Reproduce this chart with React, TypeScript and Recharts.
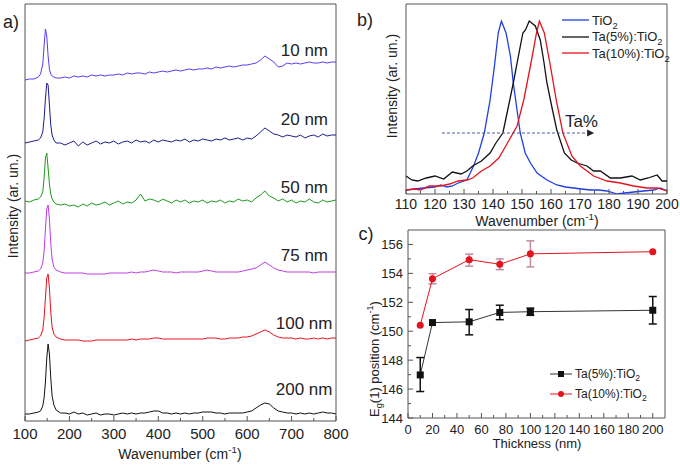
import {
  ComposedChart,
  ErrorBar,
  Legend,
  Line,
  LineChart,
  ReferenceArea,
  ReferenceDot,
  ReferenceLine,
  XAxis,
  YAxis,
} from 'recharts'

const FONT = 'Arial, "Liberation Sans", sans-serif'
const AXIS = '#555'
const TEXT = '#222'

// ---- a) Raman spectra, one per film thickness (stacked with an offset) ----
const ramanShift = [
  100, 110, 120, 130, 135, 140, 143, 146, 149, 152, 155, 158, 161, 165, 170,
  180, 190,
  200, 210, 220, 230, 240, 250, 260, 270, 280, 290,
  300, 310, 320, 330, 340, 350, 360, 370, 380, 390,
  400, 410, 420, 430, 440, 450, 460, 470, 480, 490,
  500, 510, 520, 530, 540, 550, 560, 570, 580, 590,
  600, 610, 620, 630, 640, 650, 660, 670, 680, 690,
  700, 710, 720, 730, 740, 750, 760, 770, 780, 790,
  800,
]
const thicknessLabels = ['10 nm', '20 nm', '50 nm', '75 nm', '100 nm', '200 nm']
const spectrumOffset = [341, 278, 219, 148, 81, 7]

const spectrum10 = [
  0, 1, 1, 3, 6, 16, 34, 51, 44, 24, 11, 6, 4, 3, 2,
  2, 3,
  2, 4, 3, 4, 3, 5, 4, 5, 4, 5,
  5, 6, 5, 7, 6, 7, 7, 6, 8, 7,
  8, 9, 8, 9, 10, 9, 10, 11, 10, 11,
  11, 12, 11, 13, 12, 13, 14, 13, 14, 15,
  15, 16, 17, 20, 24, 21, 18, 13, 14, 17,
  16, 17, 16, 17, 18, 17, 17, 18, 17, 18,
  18,
]
const spectrum20 = [
  0, 1, 2, 3, 5, 11, 24, 44, 60, 58, 38, 18, 8, 3, 0,
  0, -2,
  0, 2, -3, 1, -2, 0, 2, -1, 1, 0,
  2, -1, 1, 2, 0, 3, 1, 2, 0, 3,
  1, 3, 2, 1, 3, 2, 4, 1, 3, 2,
  4, 3, 2, 4, 3, 5, 3, 4, 5, 3,
  5, 4, 7, 11, 15, 12, 9, 8, 6, 8,
  7, 6, 8, 5, 7, 8, 6, 9, 7, 8,
  8,
]
const spectrum50 = [
  1, 0, 2, 3, 5, 10, 24, 44, 49, 34, 18, 8, 3, 0, -2,
  -3, -2,
  -4, -3, -5, -2, -4, -1, -3, -2, 0, -3,
  -1, 1, -2, 0, -1, 2, 8, 1, 3, 2,
  0, 3, 1, -1, 2, 0, 2, -1, 1, 0,
  2, -1, 1, 0, 2, -1, 1, 0, 3, 1,
  2, 0, 4, 7, 11, 6, 4, 1, 3, 0,
  2, -1, 1, 0, 3, 0, -1, 2, 0, 1,
  2,
]
const spectrum75 = [
  0, 0, 1, 2, 4, 10, 22, 44, 64, 68, 54, 30, 14, 6, 3,
  1, 0,
  0, 0, 0, 0, -1, -1, -1, -1, -1, 0,
  0, 0, 0, 0, 1, 0, 1, 1, 2, 3,
  2, 1, 1, 1, 0, 1, 1, 1, 1, 1,
  2, 3, 2, 1, 1, 1, 1, 1, 1, 2,
  3, 4, 5, 8, 11, 8, 5, 3, 2, 1,
  1, 1, 1, 1, 1, 0, 1, 1, 1, 1,
  1,
]
const spectrum100 = [
  -1, 0, 1, 2, 4, 10, 22, 42, 62, 66, 52, 28, 13, 6, 3,
  1, 0,
  0, 0, 0, -1, -1, -1, 0, 0, 0, 0,
  0, 0, 0, 0, 1, 0, 1, 1, 1, 2,
  2, 1, 1, 1, 1, 1, 1, 1, 1, 1,
  1, 2, 2, 2, 1, 1, 2, 2, 2, 3,
  3, 4, 6, 8, 10, 8, 5, 3, 2, 2,
  2, 1, 2, 1, 1, 2, 1, 2, 1, 2,
  2,
]
const spectrum200 = [
  0, 0, 1, 2, 3, 8, 16, 32, 56, 70, 60, 36, 18, 9, 4,
  1, 1,
  0, 2, 0, 1, -1, 0, 1, -1, 0, 0,
  -1, 0, 1, 0, 1, 0, 1, 1, 2, 3,
  3, 1, 1, 0, 1, 0, 1, 0, 1, 1,
  2, 2, 2, 1, 1, 0, 1, 1, 1, 1,
  2, 3, 6, 9, 11, 10, 6, 3, 2, 1,
  1, 0, 1, 0, 1, 0, 1, 2, 1, 1,
  0,
]
const spectra = [spectrum10, spectrum20, spectrum50, spectrum75, spectrum100, spectrum200]
const spectraColors = ['#5a3cf2', '#1c1c8c', '#1c9a1c', '#c03ce6', '#e8121e', '#111111']
// where each thickness label sits (right end, vertical centre) in data units
const labelAnchor: [number, number][] = [
  [782, 371], [782, 302], [782, 234], [782, 166], [792, 98], [792, 32],
]

const spectraRows = ramanShift.map((x, i) => {
  const row: Record<string, number> = { x }
  spectra.forEach((s, k) => { row['s' + k] = s[i] + spectrumOffset[k] })
  return row
})

// ---- b) Eg(1) peak, undoped vs Ta-doped ----
const tio2Peak: [number, number][] = [
  [110, 4], [113, 5], [116, 6], [120, 7], [122, 9], [124, 7], [126, 8], [128, 11],
  [131, 14], [133.3, 28], [135, 41], [137, 61], [139, 94], [140.5, 128], [141.8, 161],
  [142.9, 173], [144.5, 161], [146, 138], [147, 111], [148.2, 86], [149.4, 61],
  [151.1, 41], [152.9, 31], [155.2, 21], [158.6, 14], [162, 9], [165, 7], [167.8, 6],
  [170.5, 5], [173.6, 4], [176.5, 4], [179.3, 3], [182.8, 0], [185.5, 1], [188.5, 2],
  [192, 3], [195.4, 4], [197.7, 6], [200, 3],
]
const ta5Peak: [number, number][] = [
  [110, 18], [112, 14], [114, 13], [117, 16], [120, 18], [123, 15], [126, 22], [129, 20],
  [131, 23], [133, 28], [136, 33], [139, 41], [141, 51], [143.4, 61], [145, 83],
  [147, 111], [148.7, 137], [150.3, 161], [151.2, 164], [152.5, 173], [154.6, 168],
  [156.3, 154], [157.5, 133], [158.6, 111], [160.3, 87], [162, 64], [164.6, 41],
  [167, 34], [169, 31], [172.4, 28], [174.7, 23], [177, 23], [180.5, 16], [183.9, 16],
  [187.9, 18], [190.8, 14], [193.5, 16], [196.6, 19], [198.3, 13], [200, 13],
]
const ta10Peak: [number, number][] = [
  [110, 4], [113, 5], [115, 4], [118, 8], [122, 8], [125, 10], [128, 13], [131, 14],
  [133, 16], [136, 23], [139, 28], [142, 36], [145, 51], [148.3, 68], [150.6, 94],
  [152.9, 128], [155, 161], [156, 173], [157.7, 161], [159.8, 128], [161.8, 94],
  [164.1, 61], [167.2, 38], [170.1, 28], [174.7, 18], [179.3, 13], [183.9, 11],
  [188.5, 8], [193.1, 6], [196.6, 6], [200, 3],
]
const peakNames = ['TiO2', 'Ta(5%):TiO2', 'Ta(10%):TiO2']
const peakColors = ['#1f3ee6', '#111111', '#e4141e']
const peakSets = [tio2Peak, ta5Peak, ta10Peak].map((s) => s.map(([x, y]) => ({ x, y })))

// ---- c) Eg(1) position vs thickness ----
const thickness = [10, 20, 50, 75, 100, 200]
const ta5Position = [146.98, 150.6, 150.65, 151.3, 151.35, 151.45]
const ta5Error: ([number, number] | null)[] = [[1.15, 1.2], null, [0.9, 0.85], [0.5, 0.5], [0.25, 0.25], [0.95, 0.95]]
const ta10Position = [150.42, 153.63, 154.95, 154.63, 155.35, 155.5]
const ta10Error: ([number, number] | null)[] = [null, [0.35, 0.35], [0.45, 0.38], [0.37, 0.37], [0.9, 0.9], null]
const positionNames = ['Ta(5%):TiO2', 'Ta(10%):TiO2']

const positionRows = thickness.map((t, i) => ({
  t,
  ta5: ta5Position[i],
  e5: ta5Error[i],
  ta10: ta10Position[i],
  e10: ta10Error[i],
}))

function Chem({ name }: { name: string }) {
  const m = name.match(/^(.*O)2$/)
  if (!m) return <>{name}</>
  return (
    <>
      {m[1]}
      <sub style={{ fontSize: '0.72em', lineHeight: 0 }}>2</sub>
    </>
  )
}

// legend entries in the order the series were declared
function ordered(payload: any[], names: string[]) {
  return [...(payload || [])].sort((a, b) => names.indexOf(a.value) - names.indexOf(b.value))
}

function xTick(majors: number[], dy: number, size: number) {
  return (p: any) => {
    const v = p.payload.value
    const major = majors.includes(v)
    return (
      <g>
        <line x1={p.x} x2={p.x} y1={p.y} y2={p.y - (major ? 5 : 3)} stroke={AXIS} />
        {major && (
          <text x={p.x} y={p.y + dy} textAnchor="middle" dominantBaseline="central" fontSize={size} fill={TEXT}>
            {v}
          </text>
        )}
      </g>
    )
  }
}

function yTick(majors: number[]) {
  return (p: any) => {
    const v = p.payload.value
    const major = majors.includes(v)
    return (
      <g>
        <line x1={p.x} x2={p.x + (major ? 5 : 3)} y1={p.y} y2={p.y} stroke={AXIS} />
        {major && (
          <text x={p.x - 5} y={p.y} textAnchor="end" dominantBaseline="central" fontSize={13} fill={TEXT}>
            {v}
          </text>
        )}
      </g>
    )
  }
}

function Caption(props: { x: number; y: number; size: number; rotate?: boolean; children: any }) {
  return (
    <div
      style={{
        position: 'absolute',
        left: props.x,
        top: props.y,
        transform: 'translate(-50%, -50%)' + (props.rotate ? ' rotate(-90deg)' : ''),
        whiteSpace: 'nowrap',
        fontSize: props.size,
        lineHeight: 1,
        color: TEXT,
      }}
    >
      {props.children}
    </div>
  )
}

const sup = { fontSize: '0.7em', lineHeight: 0 }

const legendB = (props: any) => (
  <div style={{ fontSize: 13, color: TEXT }}>
    {ordered(props.payload, peakNames).map((e: any) => (
      <div key={e.value} style={{ display: 'flex', alignItems: 'center', height: 16.5 }}>
        <svg width={27} height={4} style={{ marginRight: 3 }}>
          <line x1={0} x2={27} y1={2} y2={2} stroke={e.color} strokeWidth={1.3} />
        </svg>
        <span>
          <Chem name={e.value} />
        </span>
      </div>
    ))}
  </div>
)

const legendC = (props: any) => (
  <div style={{ fontSize: 12, color: TEXT }}>
    {ordered(props.payload, positionNames).map((e: any) => (
      <div key={e.value} style={{ display: 'flex', alignItems: 'center', height: 20 }}>
        <svg width={22} height={8} style={{ marginRight: 3 }}>
          <line x1={0} x2={22} y1={4} y2={4} stroke={e.color} />
          {e.value === positionNames[0] ? (
            <rect x={8} y={1} width={6} height={6} fill="#111" />
          ) : (
            <circle cx={11} cy={4} r={3} fill={e.color} />
          )}
        </svg>
        <span>
          <Chem name={e.value} />
        </span>
      </div>
    ))}
  </div>
)

const squareDot = (p: any) => (
  <rect key={'sq' + p.index} x={p.cx - 3.5} y={p.cy - 3.5} width={7} height={7} fill="#111" />
)

const arrowHead = (p: any) => (
  <path d={`M${p.cx - 3},${p.cy - 3.5} L${p.cx + 4},${p.cy} L${p.cx - 3},${p.cy + 3.5} Z`} fill="#222" />
)

export default function App() {
  return (
    <div
      style={{
        position: 'absolute',
        left: 0,
        top: 0,
        width: 680,
        height: 465,
        background: '#fff',
        fontFamily: FONT,
      }}
    >
      {/* a) */}
      <div style={{ position: 'absolute', left: 0, top: 0 }}>
        <LineChart width={360} height={465} data={spectraRows} margin={{ top: 4, right: 24, bottom: 0, left: 25 }}>
          <XAxis
            type="number"
            dataKey="x"
            domain={[100, 800]}
            ticks={[100, 150, 200, 250, 300, 350, 400, 450, 500, 550, 600, 650, 700, 750, 800]}
            interval={0}
            axisLine={false}
            tickLine={false}
            tickSize={0}
            tickMargin={0}
            height={44}
            tick={xTick([100, 200, 300, 400, 500, 600, 700, 800], 12, 15)}
          />
          <YAxis hide type="number" domain={[0, 417]} />
          <ReferenceArea x1={100} x2={800} y1={0} y2={417} fill="none" stroke={AXIS} />
          {spectra.map((_, k) => (
            <Line
              key={k}
              dataKey={'s' + k}
              type="linear"
              stroke={spectraColors[k]}
              strokeWidth={1}
              dot={false}
              isAnimationActive={false}
            />
          ))}
          {thicknessLabels.map((name, k) => (
            <ReferenceDot
              key={name}
              x={labelAnchor[k][0]}
              y={labelAnchor[k][1]}
              r={0}
              fill="none"
              stroke="none"
              label={{ value: name, position: 'left', offset: 0, fontSize: 17, fill: TEXT }}
            />
          ))}
        </LineChart>
      </div>

      {/* b) */}
      <div style={{ position: 'absolute', left: 345, top: 0 }}>
        <LineChart width={335} height={230} margin={{ top: 4, right: 13, bottom: 0, left: 61 }}>
          <XAxis
            type="number"
            dataKey="x"
            domain={[110, 200]}
            allowDataOverflow
            ticks={[110, 115, 120, 125, 130, 135, 140, 145, 150, 155, 160, 165, 170, 175, 180, 185, 190, 195, 200]}
            interval={0}
            axisLine={false}
            tickLine={false}
            tickSize={0}
            tickMargin={0}
            height={36}
            tick={xTick([110, 120, 130, 140, 150, 160, 170, 180, 190, 200], 10, 14)}
          />
          <YAxis hide type="number" domain={[0, 190]} allowDataOverflow />
          <ReferenceArea x1={110} x2={200} y1={0} y2={190} fill="none" stroke={AXIS} />
          {peakSets.map((d, k) => (
            <Line
              key={peakNames[k]}
              data={d}
              dataKey="y"
              name={peakNames[k]}
              type="linear"
              stroke={peakColors[k]}
              strokeWidth={1.3}
              dot={false}
              isAnimationActive={false}
            />
          ))}
          <ReferenceLine
            segment={[{ x: 122.4, y: 61 }, { x: 172.8, y: 61 }]}
            stroke="#4a5a90"
            strokeDasharray="3 2"
          />
          <ReferenceDot x={173.5} y={61} r={3} shape={arrowHead} />
          <ReferenceDot
            x={170.5}
            y={73}
            r={0}
            fill="none"
            stroke="none"
            label={{ value: 'Ta%', position: 'center', fontSize: 17, fill: TEXT }}
          />
          <Legend
            layout="vertical"
            align="center"
            verticalAlign="middle"
            content={legendB}
            wrapperStyle={{ left: 217, top: 12, width: 'auto' }}
          />
        </LineChart>
      </div>

      {/* c) */}
      <div style={{ position: 'absolute', left: 345, top: 225 }}>
        <ComposedChart width={335} height={240} data={positionRows} margin={{ top: 5, right: 15, bottom: 0, left: 0 }}>
          <XAxis
            type="number"
            dataKey="t"
            domain={[0, 210]}
            ticks={[0, 10, 20, 30, 40, 50, 60, 70, 80, 90, 100, 110, 120, 130, 140, 150, 160, 170, 180, 190, 200]}
            interval={0}
            axisLine={false}
            tickLine={false}
            tickSize={0}
            tickMargin={0}
            height={47}
            tick={xTick([0, 20, 40, 60, 80, 100, 120, 140, 160, 180, 200], 11, 13)}
          />
          <YAxis
            type="number"
            domain={[144, 157]}
            ticks={[144, 145, 146, 147, 148, 149, 150, 151, 152, 153, 154, 155, 156]}
            interval={0}
            axisLine={false}
            tickLine={false}
            tickSize={0}
            tickMargin={0}
            width={63}
            tick={yTick([144, 146, 148, 150, 152, 154, 156])}
          />
          <ReferenceArea x1={0} x2={210} y1={144} y2={157} fill="none" stroke={AXIS} />
          <Line
            dataKey="ta5"
            name={positionNames[0]}
            type="linear"
            stroke="#333"
            strokeWidth={1}
            dot={squareDot}
            isAnimationActive={false}
          >
            <ErrorBar dataKey="e5" width={4} stroke="#111" direction="y" />
          </Line>
          <Line
            dataKey="ta10"
            name={positionNames[1]}
            type="linear"
            stroke="#e4141e"
            strokeWidth={1}
            dot={{ r: 3.5, fill: '#e4141e', stroke: '#e4141e', strokeWidth: 0 }}
            isAnimationActive={false}
          >
            <ErrorBar dataKey="e10" width={4} stroke="#c08aa0" direction="y" />
          </Line>
          <Legend
            layout="vertical"
            align="center"
            verticalAlign="middle"
            content={legendC}
            wrapperStyle={{ left: 205, top: 139, width: 'auto' }}
          />
        </ComposedChart>
      </div>

      {/* titles */}
      <Caption x={11} y={22} size={18}>a)</Caption>
      <Caption x={365} y={20} size={18}>b)</Caption>
      <Caption x={366} y={234} size={18}>c)</Caption>

      <Caption x={13} y={206} size={14} rotate>
        Intensity (ar. un.)
      </Caption>
      <Caption x={180} y={454} size={14}>
        Wavenumber (cm<sup style={sup}>-1</sup>)
      </Caption>

      <Caption x={392} y={86} size={14} rotate>
        Intensity (ar. un.)
      </Caption>
      <Caption x={537} y={221} size={14}>
        Wavenumber (cm<sup style={sup}>-1</sup>)
      </Caption>

      <Caption x={374} y={359} size={13} rotate>
        E<sub style={sup}>g</sub>(1) position (cm<sup style={sup}>-1</sup>)
      </Caption>
      <Caption x={537} y={443} size={13}>
        Thickness (nm)
      </Caption>
    </div>
  )
}
